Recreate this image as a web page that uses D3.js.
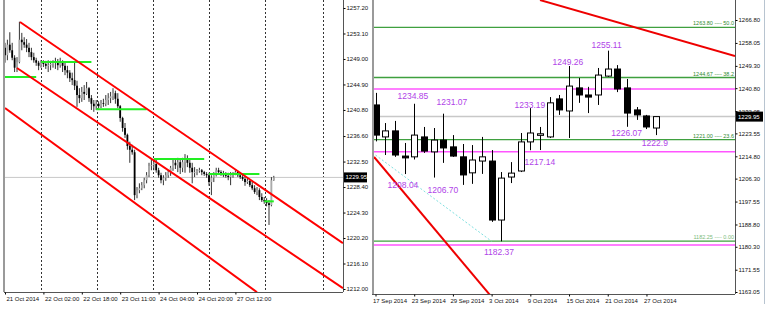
<!DOCTYPE html>
<html>
<head>
<meta charset="utf-8">
<script src="https://cdn.jsdelivr.net/npm/d3@7"></script>
<style>
  body { margin: 0; background: #fff; }
  svg text { font-family: "Liberation Sans", Arial, sans-serif; }
</style>
</head>
<body>
<div class="chart"></div>
<script>
(function () {

  var width = 768, height = 311;

  // ---------- left panel: hourly bars, 21 Oct - 27 Oct 2014 ----------
  var hOpen = [1250.8,1249.6,1251.3,1250.4,1249.2,1247.6,1248.5,1252.1,1251.7,1251.3,1250.8,1250.1,1249.3,1248.8,1248.4,1247.9,1248.4,1248.2,1247.9,1248.0,
    1248.2,1248.5,1248.4,1248.0,1248.5,1247.9,1247.2,1246.8,1245.9,1245.6,1244.7,1243.2,1242.7,1243.7,1243.4,1244.3,1242.7,1241.8,1241.4,1241.8,
    1241.4,1241.9,1241.8,1242.4,1242.7,1243.0,1243.5,1242.6,1241.4,1239.5,1237.9,1236.8,1235.0,1234.4,1234.0,1227.1,1227.9,1228.2,1228.7,1229.5,
    1230.3,1231.8,1231.9,1232.1,1231.1,1230.3,1229.5,1229.9,1230.3,1230.8,1231.5,1232.3,1231.9,1232.4,1231.5,1232.4,1232.8,1232.3,1231.5,1230.8,
    1230.8,1231.0,1231.1,1230.8,1230.5,1230.3,1229.2,1229.9,1230.3,1231.1,1230.8,1230.5,1230.3,1230.2,1230.0,1230.3,1230.5,1230.8,1230.3,1230.0,
    1229.7,1229.2,1229.4,1228.7,1228.2,1227.6,1227.9,1226.8,1226.3,1226.1,1225.8,1225.5,1229.5];
  var hHigh = [1251.6,1252.1,1253.3,1251.6,1249.6,1249.3,1255.0,1253.2,1252.5,1252.2,1251.6,1250.8,1250.0,1249.2,1248.7,1248.8,1248.8,1248.7,1248.8,1248.7,
    1248.8,1249.2,1249.0,1249.2,1248.8,1248.4,1247.9,1247.2,1246.8,1248.5,1245.5,1244.3,1244.5,1244.8,1245.3,1244.5,1243.2,1242.4,1242.4,1242.2,
    1242.4,1242.6,1243.2,1243.5,1243.7,1244.3,1243.9,1243.5,1241.6,1239.7,1238.7,1237.0,1235.7,1235.2,1234.4,1228.4,1229.0,1229.2,1229.9,1230.8,
    1232.3,1232.9,1232.6,1232.8,1231.5,1230.7,1230.3,1230.8,1231.1,1231.8,1232.9,1232.9,1233.1,1232.8,1233.1,1233.7,1233.5,1232.8,1232.3,1231.6,
    1231.3,1231.5,1231.3,1231.0,1230.8,1230.7,1230.3,1230.8,1231.5,1231.5,1231.1,1231.0,1230.8,1230.7,1230.8,1230.8,1231.1,1231.0,1230.7,1230.5,
    1230.2,1230.0,1229.5,1229.4,1228.7,1228.4,1228.2,1227.4,1226.8,1226.6,1226.3,1230.0,1230.2];
  var hLow = [1248.4,1248.8,1250.0,1248.8,1246.9,1246.9,1248.3,1250.4,1250.8,1250.1,1249.3,1248.8,1248.4,1247.9,1247.2,1247.6,1247.7,1247.4,1246.9,1247.2,
    1247.6,1247.4,1247.2,1247.6,1246.9,1246.4,1245.9,1245.3,1244.8,1244.0,1241.3,1241.9,1242.1,1242.4,1243.2,1242.1,1240.8,1240.5,1240.8,1241.0,
    1241.1,1241.3,1241.4,1241.6,1241.9,1242.4,1241.8,1241.1,1238.9,1237.3,1236.3,1234.4,1232.3,1233.6,1226.3,1226.6,1227.4,1227.9,1228.2,1229.0,
    1230.0,1231.1,1231.1,1230.7,1229.9,1229.0,1228.7,1229.4,1229.9,1230.2,1231.0,1231.3,1230.8,1230.5,1230.8,1230.7,1231.6,1230.7,1229.0,1230.0,
    1230.3,1230.7,1230.3,1230.2,1229.9,1228.6,1227.1,1229.2,1230.1,1230.5,1230.2,1230.0,1229.9,1229.5,1228.7,1229.9,1230.3,1230.0,1229.7,1229.4,
    1228.6,1228.9,1228.4,1227.9,1227.3,1227.1,1226.3,1226.0,1225.7,1225.3,1222.3,1225.3,1229.4];
  var hClose = [1249.6,1251.3,1250.4,1249.2,1247.6,1248.5,1252.1,1251.7,1251.3,1250.8,1250.1,1249.3,1248.8,1248.4,1247.9,1248.4,1248.2,1247.9,1248.0,1248.2,
    1248.5,1248.4,1248.0,1248.5,1247.9,1247.2,1246.8,1245.9,1245.6,1244.7,1243.2,1242.7,1243.7,1243.4,1244.3,1242.7,1241.8,1241.4,1241.8,1241.4,
    1241.9,1241.8,1242.4,1242.7,1243.0,1243.5,1242.6,1241.4,1239.5,1237.9,1236.8,1235.0,1234.4,1234.0,1227.1,1227.9,1228.2,1228.7,1229.5,1230.3,
    1231.8,1231.9,1232.1,1231.1,1230.3,1229.5,1229.9,1230.3,1230.8,1231.5,1232.3,1231.9,1232.4,1231.5,1232.4,1232.8,1232.3,1231.5,1230.8,1230.8,
    1231.0,1231.1,1230.8,1230.5,1230.3,1229.2,1229.9,1230.3,1231.1,1230.8,1230.5,1230.3,1230.2,1230.0,1230.3,1230.5,1230.8,1230.3,1230.0,1229.7,
    1229.2,1229.4,1228.7,1228.2,1227.6,1227.9,1226.8,1226.3,1226.1,1225.8,1225.5,1229.5,1229.95];

  var hTickIdx = [0, 16, 32, 48, 64, 80, 96];
  var hTickLabels = ["21 Oct 2014", "22 Oct 02:00", "22 Oct 18:00", "23 Oct 11:00", "24 Oct 04:00", "24 Oct 20:00", "27 Oct 12:00"];
  var hGridIdx = [15, 38.3, 61.7, 85, 108.3, 132.5];
  var hPriceTicks = [1257.20, 1253.10, 1249.00, 1244.90, 1240.80, 1236.60, 1232.50, 1228.40, 1224.30, 1220.20, 1216.10, 1212.00];

  // green support/resistance segments (bar index from, to, price)
  var hLevelFrom = [0, 15, 38, 62, 85, 108];
  var hLevelTo = [13, 36, 59, 83, 106, 112];
  var hLevelPrice = [1246.1, 1248.5, 1240.9, 1232.9, 1230.5, 1226.1];

  // red channel lines (bar index, price) -> (bar index, price)
  var hLineX1 = [6.25, 5, 0];
  var hLineP1 = [1254.95, 1247.55, 1241.1];
  var hLineX2 = [140.8, 140.8, 105];
  var hLineP2 = [1219.37, 1212.12, 1211.48];

  var lastPrice = 1229.95;

  // ---------- right panel: daily candles, 17 Sep - 28 Oct 2014 ----------
  var dOpen = [1234.4,1222.2,1224.5,1214.9,1214.6,1222.2,1216.5,1221.0,1218.4,1214.6,1208.5,1213.0,1213.0,1190.5,1206.9,
    1209.2,1220.3,1222.8,1222.2,1236.7,1232.1,1240.9,1238.2,1238.2,1245.4,1248.1,1240.9,1232.5,1230.2,1225.6];
  var dHigh = [1239.0,1227.5,1228.3,1219.9,1234.85,1226.0,1225.6,1231.07,1222.9,1219.5,1219.1,1222.2,1217.2,1208.8,1212.6,
    1223.7,1233.19,1226.0,1237.4,1238.2,1249.26,1244.7,1241.3,1248.5,1255.11,1249.6,1244.3,1233.6,1230.6,1229.95];
  var dLow = [1220.5,1215.3,1214.6,1208.04,1213.6,1216.1,1206.70,1212.3,1214.6,1203.9,1204.3,1208.1,1189.8,1182.37,1204.6,
    1208.8,1217.14,1217.2,1221.8,1230.6,1221.8,1235.2,1231.3,1234.4,1245.1,1239.3,1226.07,1228.7,1225.2,1222.9];
  var dClose = [1222.9,1224.5,1215.3,1214.2,1222.9,1216.8,1221.0,1218.0,1214.9,1207.7,1213.4,1214.6,1190.5,1206.5,1208.4,
    1220.3,1223.7,1223.4,1235.2,1232.5,1241.6,1238.2,1237.4,1245.8,1248.1,1240.5,1231.3,1230.6,1226.0,1229.95];

  var dTickIdx = [0, 4, 8, 12, 16, 20, 24, 28];
  var dTickLabels = ["17 Sep 2014", "23 Sep 2014", "29 Sep 2014", "3 Oct 2014", "9 Oct 2014", "15 Oct 2014", "21 Oct 2014", "27 Oct 2014"];
  var dPriceTicks = [1266.80, 1258.05, 1249.30, 1240.80, 1232.05, 1223.55, 1214.80, 1206.30, 1197.55, 1188.80, 1180.30, 1171.55, 1163.05];

  // fibonacci levels
  var fiboPrice = [1263.80, 1244.67, 1221.00, 1182.25];
  var fiboText = ["1263.80 ---- 50.0", "1244.67 ---- 38.2", "1221.00 ---- 23.6", "1182.25 ---- 0.00"];

  // magenta horizontal levels
  var pinkPrice = [1240.5, 1216.5, 1181.0];

  // swing high / low labels (text, anchor bar index, anchor price)
  var swingText = ["1234.85", "1231.07", "1233.19", "1249.26", "1255.11", "1226.07", "1222.9", "1208.04", "1206.70", "1217.14", "1182.37"];
  var swingIdx = [3.87, 7.9, 15.96, 19.88, 23.88, 25.95, 28.87, 2.84, 6.97, 16.99, 12.76];
  var swingPrice = [1237.8, 1235.5, 1234.4, 1250.8, 1257.3, 1223.7, 1219.9, 1203.9, 1202.0, 1212.6, 1178.3];

  // trend lines (bar index, price) -> (bar index, price)
  var dRedX1 = [17.0, -0.15], dRedP1 = [1274.4, 1214.55];
  var dRedX2 = [37.15, 11.83], dRedP2 = [1253.07, 1161.9];
  var dCyanX = [0, 12], dCyanP = [1215.3, 1182.4];

  var svg = d3.select(".chart")
    .append("svg")
    .attr("width", width)
    .attr("height", height)
    .style("display", "block");

  var fmt = d3.format(".2f");

  // ================= LEFT PANEL =================
  var L = { left: 5, right: 343, top: 0, bottom: 292 };
  var xL = d3.scaleLinear().domain([0, 140.83]).range([5, 343]);
  var yL = d3.scaleLinear().domain([1212, 1257.2]).range([289, 8]);

  svg.append("clipPath").attr("id", "clipL")
    .append("rect").attr("x", L.left).attr("y", L.top)
    .attr("width", L.right - L.left).attr("height", L.bottom - L.top);

  var gL = svg.append("g").attr("clip-path", "url(#clipL)");

  // dotted grid
  gL.selectAll(".gridL").data(hGridIdx).enter()
    .append("line")
    .attr("x1", function (d) { return Math.round(xL(d)) + 0.5; })
    .attr("x2", function (d) { return Math.round(xL(d)) + 0.5; })
    .attr("y1", L.top).attr("y2", L.bottom)
    .attr("stroke", "#333").attr("stroke-width", 1)
    .attr("stroke-dasharray", "2,2");

  // current price line
  gL.append("line")
    .attr("x1", L.left).attr("x2", L.right)
    .attr("y1", yL(lastPrice)).attr("y2", yL(lastPrice))
    .attr("stroke", "#c8c8c8").attr("stroke-width", 1);

  // bars
  var hIdx = d3.range(hClose.length);
  gL.selectAll(".wickL").data(hIdx).enter()
    .append("line")
    .attr("x1", function (i) { return xL(i); })
    .attr("x2", function (i) { return xL(i); })
    .attr("y1", function (i) { return yL(hHigh[i]); })
    .attr("y2", function (i) { return yL(hLow[i]); })
    .attr("stroke", "#333").attr("stroke-width", 1);

  gL.selectAll(".bodyL").data(hIdx).enter()
    .append("rect")
    .attr("x", function (i) { return xL(i) - 0.9; })
    .attr("width", 1.8)
    .attr("y", function (i) { return yL(Math.max(hOpen[i], hClose[i])); })
    .attr("height", function (i) { return Math.max(0.8, Math.abs(yL(hOpen[i]) - yL(hClose[i]))); })
    .attr("fill", function (i) { return hClose[i] >= hOpen[i] ? "#aaa" : "#000"; });

  // green levels
  gL.selectAll(".levelL").data(hLevelPrice).enter()
    .append("line")
    .attr("x1", function (d, i) { return xL(hLevelFrom[i]); })
    .attr("x2", function (d, i) { return xL(hLevelTo[i]); })
    .attr("y1", function (d) { return yL(d); })
    .attr("y2", function (d) { return yL(d); })
    .attr("stroke", "#22ee22").attr("stroke-width", 2);

  // red channel
  gL.selectAll(".chanL").data(hLineX1).enter()
    .append("line")
    .attr("x1", function (d) { return xL(d); })
    .attr("y1", function (d, i) { return yL(hLineP1[i]); })
    .attr("x2", function (d, i) { return xL(hLineX2[i]); })
    .attr("y2", function (d, i) { return yL(hLineP2[i]); })
    .attr("stroke", "#ff0000").attr("stroke-width", 2);

  // borders
  svg.append("line").attr("x1", 4).attr("x2", 4).attr("y1", 0).attr("y2", L.bottom)
    .attr("stroke", "#9a9a9a").attr("stroke-width", 2);
  svg.append("line").attr("x1", 4).attr("x2", L.right).attr("y1", L.bottom + 0.5).attr("y2", L.bottom + 0.5)
    .attr("stroke", "#555").attr("stroke-width", 1);
  svg.append("line").attr("x1", L.right + 0.5).attr("x2", L.right + 0.5).attr("y1", 0).attr("y2", L.bottom)
    .attr("stroke", "#555").attr("stroke-width", 1);

  // price axis
  var axisYL = svg.append("g")
    .attr("transform", "translate(" + (L.right + 0.5) + ",0)")
    .call(d3.axisRight(yL).tickValues(hPriceTicks).tickFormat(fmt).tickSize(2).tickPadding(1));
  axisYL.select(".domain").remove();
  axisYL.selectAll("text").attr("font-size", 6).attr("font-family", "Liberation Sans, Arial, sans-serif").attr("fill", "#111");

  // time axis
  var axisXL = svg.append("g")
    .attr("transform", "translate(0," + (L.bottom + 0.5) + ")")
    .call(d3.axisBottom(xL).tickValues(hTickIdx).tickFormat(function (d, i) { return hTickLabels[i]; }).tickSize(2).tickPadding(2));
  axisXL.select(".domain").remove();
  axisXL.selectAll("text").attr("font-size", 6).attr("text-anchor", "start").attr("x", 1)
    .attr("font-family", "Liberation Sans, Arial, sans-serif").attr("fill", "#111");

  // last price box
  svg.append("rect").attr("x", L.right + 1).attr("y", yL(lastPrice) - 5)
    .attr("width", 23).attr("height", 10).attr("fill", "#000");
  svg.append("text").attr("x", L.right + 2.5).attr("y", yL(lastPrice) + 2)
    .attr("font-size", 6).attr("fill", "#fff").text(fmt(lastPrice));

  // ================= RIGHT PANEL =================
  var R = { left: 374, right: 735, top: 0, bottom: 294 };
  var xR = d3.scaleLinear().domain([0, 37.15]).range([375.5, 735]);
  var yR = d3.scaleLinear().domain([1163.05, 1266.8]).range([292, 20]);

  svg.append("clipPath").attr("id", "clipR")
    .append("rect").attr("x", R.left).attr("y", R.top)
    .attr("width", R.right - R.left).attr("height", R.bottom - R.top);

  var gR = svg.append("g").attr("clip-path", "url(#clipR)");

  // current price line
  gR.append("line")
    .attr("x1", R.left).attr("x2", R.right)
    .attr("y1", yR(lastPrice)).attr("y2", yR(lastPrice))
    .attr("stroke", "#c8c8c8").attr("stroke-width", 1.5);

  // fibo levels
  gR.selectAll(".fibo").data(fiboPrice).enter()
    .append("line")
    .attr("x1", R.left).attr("x2", R.right)
    .attr("y1", function (d) { return yR(d) - 0.5; })
    .attr("y2", function (d) { return yR(d) - 0.5; })
    .attr("stroke", "#3fa03f").attr("stroke-width", 1.3);

  gR.selectAll(".fiboText").data(fiboPrice).enter()
    .append("text")
    .attr("x", R.right - 1)
    .attr("y", function (d) { return yR(d) - 2.5; })
    .attr("text-anchor", "end")
    .attr("font-size", 5.5)
    .attr("fill", function (d, i) { return i === 3 ? "#7cbc7c" : "#2f8a2f"; })
    .text(function (d, i) { return fiboText[i]; });

  // magenta levels
  gR.selectAll(".pink").data(pinkPrice).enter()
    .append("line")
    .attr("x1", R.left).attr("x2", R.right)
    .attr("y1", function (d) { return yR(d); })
    .attr("y2", function (d) { return yR(d); })
    .attr("stroke", "#ff55ff").attr("stroke-width", 1.5);

  // cyan dotted line
  gR.append("line")
    .attr("x1", xR(dCyanX[0])).attr("y1", yR(dCyanP[0]))
    .attr("x2", xR(dCyanX[1])).attr("y2", yR(dCyanP[1]))
    .attr("stroke", "#7fe0e0").attr("stroke-width", 1)
    .attr("stroke-dasharray", "2,2");

  // candles
  var dIdx = d3.range(dClose.length);
  gR.selectAll(".wickR").data(dIdx).enter()
    .append("line")
    .attr("x1", function (i) { return Math.round(xR(i)) + 0.5; })
    .attr("x2", function (i) { return Math.round(xR(i)) + 0.5; })
    .attr("y1", function (i) { return yR(dHigh[i]); })
    .attr("y2", function (i) { return yR(dLow[i]); })
    .attr("stroke", "#000").attr("stroke-width", 1);

  gR.selectAll(".bodyR").data(dIdx).enter()
    .append("rect")
    .attr("x", function (i) { return Math.round(xR(i)) - 2.5; })
    .attr("width", 6)
    .attr("y", function (i) { return yR(Math.max(dOpen[i], dClose[i])); })
    .attr("height", function (i) { return Math.max(1, Math.abs(yR(dOpen[i]) - yR(dClose[i]))); })
    .attr("fill", function (i) { return dClose[i] >= dOpen[i] ? "#fff" : "#000"; })
    .attr("stroke", "#000").attr("stroke-width", 1);

  // red trend lines
  gR.selectAll(".redR").data(dRedX1).enter()
    .append("line")
    .attr("x1", function (d) { return xR(d); })
    .attr("y1", function (d, i) { return yR(dRedP1[i]); })
    .attr("x2", function (d, i) { return xR(dRedX2[i]); })
    .attr("y2", function (d, i) { return yR(dRedP2[i]); })
    .attr("stroke", "#ee0000").attr("stroke-width", 2);

  // swing labels
  gR.selectAll(".swing").data(swingText).enter()
    .append("text")
    .attr("x", function (d, i) { return xR(swingIdx[i]); })
    .attr("y", function (d, i) { return yR(swingPrice[i]); })
    .attr("text-anchor", "middle")
    .attr("dominant-baseline", "central")
    .attr("font-size", 8.5)
    .attr("fill", "#b044e8")
    .text(function (d) { return d; });

  // borders
  svg.append("line").attr("x1", 373).attr("x2", 373).attr("y1", 0).attr("y2", R.bottom)
    .attr("stroke", "#9a9a9a").attr("stroke-width", 2);
  svg.append("line").attr("x1", 372).attr("x2", R.right).attr("y1", R.bottom + 0.5).attr("y2", R.bottom + 0.5)
    .attr("stroke", "#555").attr("stroke-width", 1);
  svg.append("line").attr("x1", R.right + 0.5).attr("x2", R.right + 0.5).attr("y1", 0).attr("y2", R.bottom)
    .attr("stroke", "#555").attr("stroke-width", 1);
  svg.append("line").attr("x1", 764.5).attr("x2", 764.5).attr("y1", 0).attr("y2", R.bottom + 10)
    .attr("stroke", "#b8c4d0").attr("stroke-width", 1);

  var axisYR = svg.append("g")
    .attr("transform", "translate(" + (R.right + 0.5) + ",0)")
    .call(d3.axisRight(yR).tickValues(dPriceTicks).tickFormat(fmt).tickSize(2).tickPadding(1));
  axisYR.select(".domain").remove();
  axisYR.selectAll("text").attr("font-size", 6).attr("font-family", "Liberation Sans, Arial, sans-serif").attr("fill", "#111");

  var axisXR = svg.append("g")
    .attr("transform", "translate(0," + (R.bottom + 0.5) + ")")
    .call(d3.axisBottom(xR).tickValues(dTickIdx).tickFormat(function (d, i) { return dTickLabels[i]; }).tickSize(2).tickPadding(2));
  axisXR.select(".domain").remove();
  axisXR.selectAll("text").attr("font-size", 6).attr("text-anchor", "start").attr("x", -3)
    .attr("font-family", "Liberation Sans, Arial, sans-serif").attr("fill", "#111");

  svg.append("rect").attr("x", R.right + 1).attr("y", yR(lastPrice) - 5)
    .attr("width", 27).attr("height", 10).attr("fill", "#000");
  svg.append("text").attr("x", R.right + 3).attr("y", yR(lastPrice) + 2)
    .attr("font-size", 6).attr("fill", "#fff").text(fmt(lastPrice));

})();
</script>
</body>
</html>
